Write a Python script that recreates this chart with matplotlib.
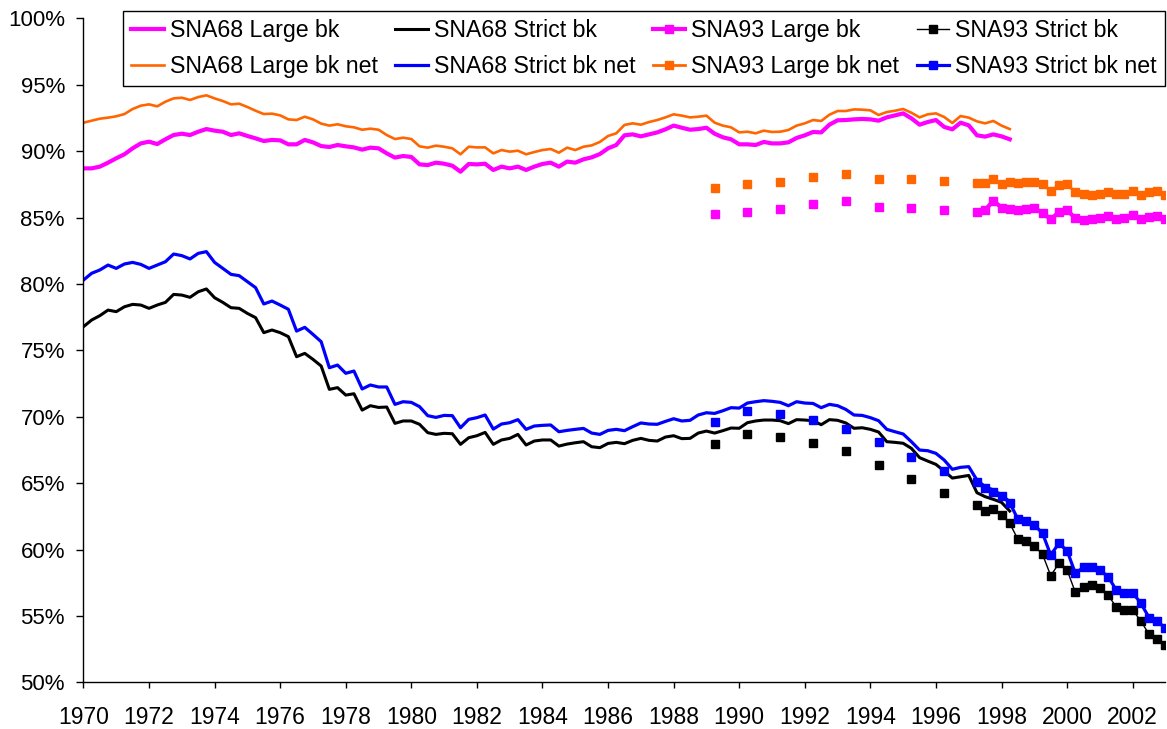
import numpy as np
import matplotlib
matplotlib.use("Agg")
import matplotlib.pyplot as plt
from matplotlib.ticker import FuncFormatter

plt.rcParams['font.family'] = ['Liberation Sans', 'DejaVu Sans']

# ---------------- data (percent) ----------------
# SNA68 quarterly series, 1970Q1 .. 1998Q2
sna68_start_year = 1970
sna68_large_bk = [
    88.70, 88.70, 88.83, 89.13, 89.46, 89.76, 90.21, 90.58, 90.71, 90.53,
    90.89, 91.21, 91.31, 91.21, 91.46, 91.66, 91.54, 91.46, 91.21, 91.34,
    91.14, 90.96, 90.76, 90.84, 90.81, 90.51, 90.51, 90.84, 90.66, 90.38,
    90.31, 90.46, 90.36, 90.28, 90.11, 90.26, 90.21, 89.83, 89.51, 89.63,
    89.56, 89.00, 88.95, 89.13, 89.05, 88.90, 88.45, 89.03, 89.00, 89.05,
    88.58, 88.83, 88.70, 88.83, 88.58, 88.83, 89.03, 89.13, 88.83, 89.21,
    89.13, 89.38, 89.53, 89.78, 90.21, 90.46, 91.19, 91.26, 91.11, 91.26,
    91.41, 91.64, 91.92, 91.76, 91.61, 91.66, 91.76, 91.31, 91.04, 90.89,
    90.51, 90.51, 90.46, 90.69, 90.58, 90.58, 90.66, 90.99, 91.19, 91.44,
    91.41, 91.99, 92.32, 92.34, 92.39, 92.42, 92.39, 92.29, 92.54, 92.69,
    92.84, 92.47, 91.99, 92.19, 92.34, 91.82, 91.64, 92.14, 91.94, 91.19,
    91.09, 91.26, 91.11, 90.89]
sna68_large_bk_net = [
    92.14, 92.29, 92.44, 92.52, 92.62, 92.79, 93.17, 93.42, 93.52, 93.37,
    93.72, 93.97, 94.02, 93.85, 94.07, 94.20, 93.97, 93.77, 93.52, 93.57,
    93.32, 93.04, 92.79, 92.82, 92.69, 92.39, 92.34, 92.59, 92.39, 92.07,
    91.92, 92.02, 91.87, 91.79, 91.61, 91.69, 91.61, 91.21, 90.91, 91.01,
    90.91, 90.36, 90.26, 90.41, 90.33, 90.21, 89.76, 90.33, 90.28, 90.28,
    89.83, 90.08, 89.96, 90.03, 89.76, 89.93, 90.08, 90.16, 89.88, 90.26,
    90.08, 90.33, 90.43, 90.69, 91.14, 91.34, 91.97, 92.09, 91.99, 92.19,
    92.34, 92.54, 92.77, 92.67, 92.54, 92.59, 92.67, 92.14, 91.92, 91.79,
    91.41, 91.46, 91.34, 91.54, 91.44, 91.46, 91.59, 91.92, 92.09, 92.34,
    92.27, 92.74, 93.02, 93.02, 93.14, 93.12, 93.07, 92.72, 92.94, 93.04,
    93.17, 92.89, 92.54, 92.77, 92.84, 92.57, 92.12, 92.64, 92.52, 92.24,
    92.09, 92.27, 91.92, 91.66]
sna68_strict_bk = [
    76.78, 77.28, 77.61, 78.03, 77.91, 78.28, 78.46, 78.41, 78.16, 78.41,
    78.61, 79.21, 79.16, 78.99, 79.41, 79.62, 78.96, 78.61, 78.21, 78.16,
    77.78, 77.46, 76.33, 76.53, 76.33, 76.03, 74.52, 74.77, 74.32, 73.82,
    72.06, 72.19, 71.63, 71.73, 70.50, 70.83, 70.70, 70.73, 69.50, 69.68,
    69.68, 69.43, 68.80, 68.67, 68.75, 68.72, 67.92, 68.42, 68.57, 68.82,
    67.92, 68.25, 68.37, 68.67, 67.87, 68.17, 68.25, 68.25, 67.79, 67.94,
    68.04, 68.12, 67.74, 67.67, 67.99, 68.07, 67.97, 68.22, 68.37, 68.22,
    68.17, 68.47, 68.57, 68.35, 68.37, 68.77, 68.92, 68.77, 68.95, 69.15,
    69.13, 69.55, 69.68, 69.75, 69.75, 69.70, 69.48, 69.78, 69.75, 69.70,
    69.40, 69.78, 69.73, 69.53, 69.13, 69.17, 69.05, 68.85, 68.12, 68.07,
    68.00, 67.62, 66.92, 66.66, 66.41, 65.91, 65.38, 65.48, 65.58, 64.28,
    63.98, 63.78, 63.55, 62.90]
sna68_strict_bk_net = [
    80.29, 80.80, 81.05, 81.42, 81.17, 81.50, 81.62, 81.47, 81.17, 81.42,
    81.67, 82.25, 82.13, 81.88, 82.30, 82.43, 81.62, 81.17, 80.72, 80.62,
    80.17, 79.72, 78.49, 78.71, 78.41, 78.09, 76.45, 76.73, 76.20, 75.65,
    73.69, 73.89, 73.27, 73.44, 72.09, 72.39, 72.24, 72.24, 70.93, 71.13,
    71.08, 70.76, 70.08, 69.95, 70.10, 70.08, 69.17, 69.80, 69.93, 70.13,
    69.07, 69.45, 69.55, 69.78, 69.05, 69.30, 69.35, 69.38, 68.87, 68.97,
    69.05, 69.12, 68.77, 68.67, 68.97, 69.05, 68.95, 69.25, 69.53, 69.45,
    69.43, 69.65, 69.85, 69.68, 69.73, 70.13, 70.30, 70.25, 70.45, 70.68,
    70.65, 71.03, 71.13, 71.21, 71.16, 71.08, 70.83, 71.13, 71.03, 71.00,
    70.68, 70.93, 70.83, 70.55, 70.13, 70.10, 69.93, 69.70, 69.05, 68.87,
    68.70, 68.12, 67.49, 67.44, 67.24, 66.74, 66.04, 66.19, 66.24, 65.23,
    64.73, 64.48, 64.10, 63.60]

# SNA93: annual values 1989..1996 (plotted at Q2), then quarterly 1997Q2 .. 2003Q1
sna93_years = [1989, 1990, 1991, 1992, 1993, 1994, 1995, 1996]
sna93_large_bk_annual = [85.24, 85.41, 85.61, 85.99, 86.22, 85.76, 85.69, 85.59]
sna93_large_bk_net_annual = [87.20, 87.50, 87.70, 88.07, 88.27, 87.90, 87.88, 87.75]
sna93_strict_bk_annual = [67.94, 68.67, 68.49, 68.04, 67.44, 66.39, 65.28, 64.23]
sna93_strict_bk_net_annual = [69.58, 70.40, 70.20, 69.73, 69.10, 68.10, 66.99, 65.91]

sna93_q_start = 1997.25
sna93_large_bk_q = [
    85.41, 85.56, 86.27, 85.74, 85.64, 85.54, 85.64, 85.69, 85.36, 84.86,
    85.41, 85.56, 84.94, 84.81, 84.89, 84.94, 85.09, 84.91, 84.96, 85.21,
    84.86, 85.06, 85.14, 84.86]
sna93_large_bk_net_q = [
    87.58, 87.62, 87.92, 87.52, 87.67, 87.58, 87.65, 87.70, 87.52, 87.00,
    87.42, 87.50, 86.90, 86.75, 86.72, 86.77, 86.95, 86.75, 86.80, 87.02,
    86.70, 86.90, 87.02, 86.70]
sna93_strict_bk_q = [
    63.35, 62.92, 63.03, 62.60, 61.97, 60.77, 60.64, 60.26, 59.64, 58.03,
    58.96, 58.46, 56.78, 57.20, 57.35, 57.13, 56.59, 55.64, 55.41, 55.43,
    54.62, 53.61, 53.28, 52.81]
sna93_strict_bk_net_q = [
    65.06, 64.61, 64.36, 64.03, 63.53, 62.27, 62.17, 61.85, 61.22, 59.59,
    60.47, 59.91, 58.21, 58.66, 58.71, 58.46, 57.95, 56.95, 56.75, 56.75,
    55.95, 54.87, 54.62, 54.06]

year_ticks = list(range(1970, 2003, 2))

# ---------------- figure ----------------
fig = plt.figure(figsize=(11.67, 7.29), dpi=100)
ax = fig.add_axes([0.0715, 0.064, 0.9272, 0.9109])

x68 = sna68_start_year + np.arange(len(sna68_large_bk)) / 4.0
xa93 = np.array(sna93_years) + 0.25
xq93 = sna93_q_start + np.arange(len(sna93_large_bk_q)) / 4.0

MAG = '#FF00FF'
ORA = '#FF6600'
BLU = '#0000FF'
BLK = '#000000'
MS = 5.3

h_l68, = ax.plot(x68, sna68_large_bk, color=MAG, lw=3.0)
h_s68, = ax.plot(x68, sna68_strict_bk, color=BLK, lw=2.2)

ax.plot(xa93, sna93_large_bk_annual, ls='none', marker='s', ms=MS, color=MAG, mec=MAG)
h_l93, = ax.plot(xq93, sna93_large_bk_q, color=MAG, lw=3.0, marker='s', ms=MS, mec=MAG)
ax.plot(xa93, sna93_strict_bk_annual, ls='none', marker='s', ms=MS, color=BLK, mec=BLK)
h_s93, = ax.plot(xq93, sna93_strict_bk_q, color=BLK, lw=1.0, marker='s', ms=MS, mec=BLK)

h_l68n, = ax.plot(x68, sna68_large_bk_net, color=ORA, lw=1.9)
h_s68n, = ax.plot(x68, sna68_strict_bk_net, color=BLU, lw=2.3)

ax.plot(xa93, sna93_large_bk_net_annual, ls='none', marker='s', ms=MS, color=ORA, mec=ORA)
h_l93n, = ax.plot(xq93, sna93_large_bk_net_q, color=ORA, lw=2.0, marker='s', ms=MS, mec=ORA)
ax.plot(xa93, sna93_strict_bk_net_annual, ls='none', marker='s', ms=MS, color=BLU, mec=BLU)
h_s93n, = ax.plot(xq93, sna93_strict_bk_net_q, color=BLU, lw=2.3, marker='s', ms=MS, mec=BLU)

ax.set_xlim(1970, 2003)
ax.set_ylim(50, 100)
ax.set_xticks(year_ticks)
ax.set_xticklabels([str(y) for y in year_ticks])
ax.set_yticks(np.arange(50, 101, 5))
ax.yaxis.set_major_formatter(FuncFormatter(lambda v, p: f"{v:.0f}%"))

for s in ['top', 'right']:
    ax.spines[s].set_visible(False)
for s in ['left', 'bottom']:
    ax.spines[s].set_linewidth(1.0)
    ax.spines[s].set_color('black')

ax.tick_params(axis='y', direction='out', length=5.3, width=1, pad=8, labelsize=16)
ax.tick_params(axis='x', direction='out', length=4.5, width=1, pad=12.5, labelsize=16.5)

handles = [h_l68, h_l68n, h_s68, h_s68n, h_l93, h_l93n, h_s93, h_s93n]
labels = ['SNA68 Large bk', 'SNA68 Large bk net', 'SNA68 Strict bk', 'SNA68 Strict bk net',
          'SNA93 Large bk', 'SNA93 Large bk net', 'SNA93 Strict bk', 'SNA93 Strict bk net']
leg = fig.legend(handles, labels, ncol=4, loc='upper left',
                 bbox_to_anchor=(123 / 1167, 1 - 10.5 / 729),
                 frameon=True, fancybox=False, edgecolor='black', framealpha=1,
                 fontsize=16.7, handlelength=1.41, handletextpad=0.25,
                 columnspacing=0.75, borderpad=0.36, labelspacing=0.57,
                 borderaxespad=0)
leg.get_frame().set_linewidth(1.0)

fig.savefig('out.png', dpi=100)
